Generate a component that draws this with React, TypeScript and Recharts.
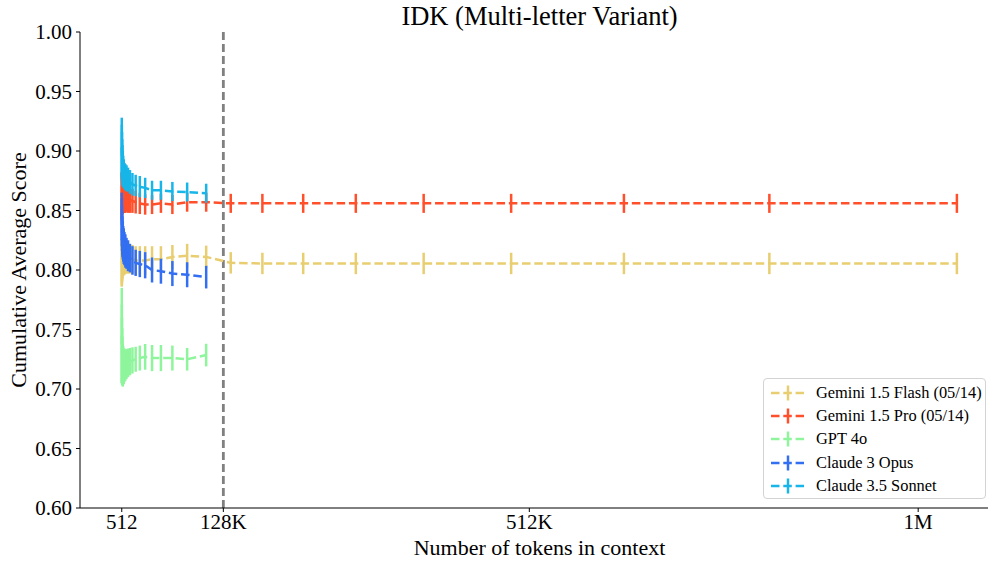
import React from "react";
import { LineChart, Line, XAxis, YAxis, ErrorBar, ReferenceLine } from "recharts";

// context lengths (tokens) at which the cumulative score was measured
const tokens = [
  512, 660, 851, 1097, 1415, 1825, 2353, 3033, 3911, 5043, 6502, 8383, 10809,
  13937, 17970, 23171, 29875, 38520, 49667, 64038, 82569, 106463, 137270,
  176993, 228210, 294247, 379393, 489176, 630728, 813243, 1048576,
];

const flashScore = [
  0.806, 0.806, 0.807, 0.808, 0.809, 0.81, 0.81, 0.81, 0.81, 0.81, 0.81, 0.81,
  0.809, 0.809, 0.808, 0.808, 0.808, 0.809, 0.809, 0.811, 0.812, 0.811, 0.806,
  0.8055, 0.8055, 0.8055, 0.8055, 0.8055, 0.8055, 0.8055, 0.8055,
];
const flashErr = [
  0.02, 0.019, 0.018, 0.017, 0.016, 0.015, 0.015, 0.014, 0.014, 0.013, 0.013,
  0.013, 0.012, 0.012, 0.012, 0.012, 0.012, 0.011, 0.011, 0.01, 0.01, 0.0095,
  0.009, 0.009, 0.009, 0.009, 0.009, 0.009, 0.009, 0.009, 0.009,
];

const proScore = [
  0.862, 0.863, 0.864, 0.864, 0.863, 0.863, 0.862, 0.862, 0.861, 0.861, 0.861,
  0.86, 0.859, 0.858, 0.857, 0.856, 0.855, 0.855, 0.856, 0.855, 0.857, 0.857,
  0.856, 0.856, 0.856, 0.856, 0.856, 0.856, 0.856, 0.856, 0.856,
];
const proErr = [
  0.02, 0.019, 0.018, 0.017, 0.016, 0.015, 0.014, 0.014, 0.013, 0.013, 0.012,
  0.012, 0.011, 0.01, 0.0095, 0.009, 0.0085, 0.008, 0.008, 0.008, 0.008, 0.008,
  0.008, 0.008, 0.008, 0.008, 0.008, 0.008, 0.008, 0.008, 0.008,
];

const gptScore = [
  0.745, 0.738, 0.732, 0.727, 0.724, 0.72, 0.72, 0.719, 0.72, 0.72, 0.721,
  0.722, 0.723, 0.724, 0.725, 0.726, 0.727, 0.726, 0.726, 0.726, 0.725, 0.7285,
];
const gptErr = [
  0.04, 0.033, 0.028, 0.024, 0.02, 0.018, 0.016, 0.015, 0.014, 0.013, 0.0125,
  0.012, 0.0115, 0.011, 0.0105, 0.0105, 0.0108, 0.011, 0.011, 0.0105, 0.0095,
  0.0095,
];

const opusScore = [
  0.845, 0.84, 0.835, 0.831, 0.828, 0.825, 0.822, 0.82, 0.818, 0.816, 0.814,
  0.812, 0.81, 0.808, 0.806, 0.805, 0.804, 0.8, 0.799, 0.797, 0.796, 0.794,
];
const opusErr = [
  0.02, 0.02, 0.019, 0.018, 0.017, 0.016, 0.015, 0.015, 0.014, 0.014, 0.013,
  0.013, 0.012, 0.012, 0.011, 0.011, 0.011, 0.0105, 0.0105, 0.0105, 0.0105,
  0.0095,
];

const sonnetScore = [
  0.903, 0.899, 0.895, 0.891, 0.888, 0.885, 0.883, 0.881, 0.879, 0.878, 0.877,
  0.876, 0.874, 0.872, 0.871, 0.87, 0.869, 0.867, 0.867, 0.866, 0.8655, 0.8645,
];
const sonnetErr = [
  0.025, 0.023, 0.021, 0.019, 0.017, 0.015, 0.013, 0.012, 0.011, 0.011, 0.011,
  0.01, 0.01, 0.0095, 0.009, 0.009, 0.0085, 0.008, 0.008, 0.008, 0.008, 0.008,
];

const xTicks = [512, 128000, 512000, 1000000];
const xTickLabels = ["512", "128K", "512K", "1M"];
const yTicks = [0.6, 0.65, 0.7, 0.75, 0.8, 0.85, 0.9, 0.95, 1.0];
const contextLimit = 128000;

const series = [
  { name: "Gemini 1.5 Flash (05/14)", color: "#e8ce70", score: flashScore, err: flashErr },
  { name: "Gemini 1.5 Pro (05/14)", color: "#ff4f2b", score: proScore, err: proErr },
  { name: "GPT 4o", color: "#8ef59c", score: gptScore, err: gptErr },
  { name: "Claude 3 Opus", color: "#336ff2", score: opusScore, err: opusErr },
  { name: "Claude 3.5 Sonnet", color: "#17b5e8", score: sonnetScore, err: sonnetErr },
];

const serif = '"Liberation Serif", "Times New Roman", serif';
const dash = "8.5 3.8";

const toPoints = (score: number[], err: number[]) =>
  score.map((v, i) => ({ t: tokens[i], v, e: err[i] }));

export default function App() {
  return (
    <div
      style={{
        position: "relative",
        width: 988,
        height: 563,
        overflow: "hidden",
        fontFamily: serif,
        background: "#fff",
      }}
    >
      <style>{"body{margin:0}"}</style>

      {/* Title */}
      <div
        style={{
          position: "absolute",
          left: 80,
          width: 919,
          top: 1,
          textAlign: "center",
          fontSize: 26.5,
          lineHeight: "30px",
        }}
      >
        IDK (Multi-letter Variant)
      </div>

      <LineChart width={988} height={563} margin={{ top: 32, right: 0, left: 0, bottom: 0 }}>
        <XAxis
          type="number"
          dataKey="t"
          domain={[-51891, 1087623]}
          allowDataOverflow
          ticks={xTicks}
          interval={0}
          tickFormatter={(v) => xTickLabels[xTicks.indexOf(v)]}
          height={55}
          tickSize={4}
          tick={{ fontSize: 21, fill: "#000", fontFamily: serif }}
          axisLine={{ stroke: "#000" }}
          tickLine={{ stroke: "#000" }}
        />
        <YAxis
          type="number"
          domain={[0.6, 1.0]}
          allowDataOverflow
          ticks={yTicks}
          interval={0}
          tickFormatter={(v) => v.toFixed(2)}
          width={80}
          tickSize={4}
          tickMargin={4}
          tick={{ fontSize: 21, fill: "#000", fontFamily: serif }}
          axisLine={{ stroke: "#000" }}
          tickLine={{ stroke: "#000" }}
        />
        <ReferenceLine
          x={contextLimit}
          stroke="#808080"
          strokeWidth={2.8}
          strokeDasharray="8 4"
        />
        {series.map((s) => (
          <Line
            key={s.name}
            data={toPoints(s.score, s.err)}
            dataKey="v"
            name={s.name}
            type="linear"
            stroke={s.color}
            strokeWidth={2.5}
            strokeDasharray={dash}
            dot={false}
            activeDot={false}
            isAnimationActive={false}
          >
            <ErrorBar
              dataKey="e"
              width={0}
              stroke={s.color}
              strokeWidth={2.5}
              direction="y"
              isAnimationActive={false}
            />
          </Line>
        ))}
      </LineChart>

      {/* Axis titles */}
      <div
        style={{
          position: "absolute",
          left: 19,
          top: 270,
          transform: "translate(-50%, -50%) rotate(-90deg)",
          whiteSpace: "nowrap",
          fontSize: 22,
        }}
      >
        Cumulative Average Score
      </div>
      <div
        style={{
          position: "absolute",
          left: 80,
          width: 919,
          top: 535,
          textAlign: "center",
          fontSize: 22,
          lineHeight: "26px",
        }}
      >
        Number of tokens in context
      </div>

      {/* Legend */}
      <div
        style={{
          position: "absolute",
          left: 763,
          top: 378,
          width: 223,
          height: 121,
          boxSizing: "border-box",
          border: "1px solid #d3d3d3",
          borderRadius: 4,
          background: "rgba(255,255,255,0.8)",
          paddingTop: 2,
        }}
      >
        {series.map((s) => (
          <div
            key={s.name}
            style={{ display: "flex", alignItems: "center", height: 23.3 }}
          >
            <svg width={52} height={18} style={{ flex: "none" }}>
              <line
                x1={7}
                y1={9}
                x2={40}
                y2={9}
                stroke={s.color}
                strokeWidth={2.5}
                strokeDasharray={dash}
              />
              <line x1={24} y1={1.5} x2={24} y2={16.5} stroke={s.color} strokeWidth={2.5} />
            </svg>
            <span style={{ fontSize: 16.4, whiteSpace: "nowrap" }}>{s.name}</span>
          </div>
        ))}
      </div>
    </div>
  );
}
